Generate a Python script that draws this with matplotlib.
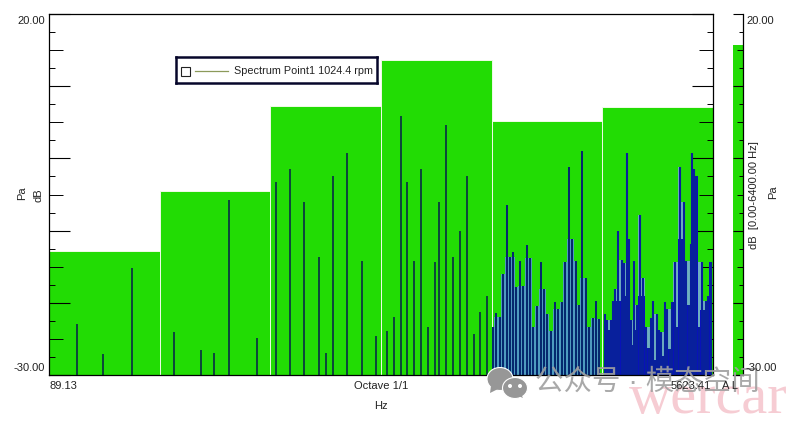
import numpy as np
import matplotlib
matplotlib.use('Agg')
import matplotlib.pyplot as plt
from matplotlib.patches import Ellipse, Rectangle, Polygon
from matplotlib.lines import Line2D

W, H = 801, 426

# octave bands (Hz edges) and overall levels (dB)
band_edges = [89.13, 177.83, 354.81, 707.95, 1412.54, 2818.38, 5623.41]
band_levels = [-12.86, -4.5, 7.25, 13.65, 5.15, 7.15]
overall_level = 15.7

# spectrum lines below 1.4 kHz
low_freqs = [106, 125, 150, 194, 230, 250, 274, 326,
             367, 400, 437, 480, 502, 524, 572, 628, 685,
             735, 766, 802, 831, 868, 907, 948, 992, 1014, 1060, 1107, 1157, 1211, 1265, 1313, 1369]
low_levels = [-22.9, -27.1, -15.2, -24.0, -26.5, -27.0, -5.8, -24.9,
              -3.2, -1.4, -6.1, -13.7, -27.0, -2.5, 0.8, -14.2, -24.6,
              -23.9, -22.0, 5.9, -3.2, -14.2, -1.4, -23.3, -14.3, -6.1, 4.6, -13.7, -10.1, -2.5, -24.3, -21.3, -19.1]

# band 1.4k - 2.8k
mid_freqs = [1421, 1448, 1485, 1516, 1552, 1580, 1613, 1647, 1683, 1720, 1758, 1791, 1832, 1874, 1918, 1955,
             1999, 2050, 2093, 2133, 2186, 2233, 2285, 2327, 2386, 2436, 2478, 2540, 2592, 2658, 2709, 2760]
mid_levels = [-23.3, -21.4, -21.9, -16.0, -6.45, -13.6, -13.0, -17.8, -14.2, -17.7, -12.0, -13.75, -23.3, -20.4, -14.3, -18.1,
              -21.5, -23.9, -19.9, -20.9, -19.9, -14.4, -1.2, -11.2, -14.2, -20.3, 1.0, -16.5, -23.3, -22.1, -19.8, -22.2]

# band 2.8k - 5.6k
high_freqs = [2860, 2897, 2932, 2968, 3004, 3044, 3084, 3102, 3137, 3182, 3218, 3253, 3280, 3325, 3365, 3396, 3427, 3463,
              3503, 3556, 3592, 3637, 3699, 3761, 3815, 3877, 3922, 3971, 4020, 4073, 4109, 4162, 4225, 4287, 4350,
              4434, 4492, 4563, 4626, 4679, 4751, 4840, 4893, 4920, 4982, 5063, 5152, 5241, 5312, 5383, 5446, 5544]
high_levels = [-21.5, -22.4, -23.8, -22.4, -19.8, -18.1, -19.8, -10.1, -19.8, -14.1, -14.5, -19.1, 0.8, -11.2, -22.4, -25.8, -14.2, -23.8,
               -20.3, -7.8, -19.1, -16.5, -23.3, -26.3, -22.1, -19.8, -27.9, -21.5, -23.8, -24.0, -27.4, -19.9, -20.9, -26.4, -19.9,
               -14.4, -23.3, -1.2, -11.2, -6.0, -14.2, -20.3, -11.9, 0.8, -1.4, -2.4, -23.3, -14.4, -21.0, -19.8, -19.1, -14.4]

legend_label = 'Spectrum Point1 1024.4 rpm'

GREEN = '#22dc04'
plt.rcParams['font.family'] = ['Liberation Sans', 'Noto Sans CJK SC', 'DejaVu Sans']


def box(left, top, right, bottom):
    return [left / W, 1 - bottom / H, (right - left) / W, (bottom - top) / H]


def label(x, y, s, **kw):
    kw.setdefault('fontsize', 8.0)
    kw.setdefault('color', '#222222')
    kw.setdefault('va', 'center')
    kw.setdefault('zorder', 11)
    fig.text(x / W, 1 - y / H, s, **kw)


def neighbours(levels):
    v = np.array(levels)
    return v, np.r_[v[0], v[:-1]], np.r_[v[1:], v[-1]]


def envelope(levels):
    # level under a line that is shared with its taller neighbour
    v, left, right = neighbours(levels)
    return np.minimum(v, np.maximum(left, right))


def notches(levels):
    # a low line between two taller ones shows as a pale strip
    v, left, right = neighbours(levels)
    return np.maximum(v, np.minimum(left, right))


def db_ticks(ax, side, lengths):
    ax.yaxis.set_ticks_position(side)
    ax.set_yticks(np.arange(-30, 21, 10))
    ax.set_yticks(np.arange(-27.5, 20, 2.5), minor=True)
    ax.tick_params(axis='y', which='major', direction='in', length=lengths[0] * 0.72, width=0.8, labelleft=False, labelright=False)
    ax.tick_params(axis='y', which='minor', direction='in', length=lengths[2] * 0.72, width=0.7)
    # the 5 dB marks are a bit longer than the 2.5 dB ones
    for t, pos in zip(ax.yaxis.get_minor_ticks(), ax.yaxis.get_minorticklocs()):
        if abs(pos % 5) < 0.01:
            t.tick1line.set_markersize(lengths[1] * 0.72)
            t.tick2line.set_markersize(lengths[1] * 0.72)


fig = plt.figure(figsize=(W / 100, H / 100), dpi=100, facecolor='white')

ax = fig.add_axes(box(49, 14, 713, 375))
ax.set_xscale('log')
ax.set_xlim(band_edges[0], band_edges[-1])
ax.set_ylim(-30, 20)

lefts = np.array(band_edges[:-1])
widths = np.diff(band_edges)
ax.bar(lefts, np.array(band_levels) + 30, widths, bottom=-30, align='edge',
       color=GREEN, edgecolor='#f0fbe8', linewidth=0.7, zorder=1)

ax.fill_between(mid_freqs, -30, envelope(mid_levels), step='mid', color='#4f9cc0', lw=0, zorder=2)
ax.fill_between(high_freqs, -30, notches(high_levels), step='mid', color='#6fb0c0', lw=0, zorder=2)
ax.fill_between(high_freqs, -30, envelope(high_levels), step='mid', color='#0a12bc', lw=0, zorder=2)

ax.vlines(low_freqs, -30, low_levels, color='#0a3a40', lw=1.3, zorder=3)
ax.vlines(mid_freqs, -30, mid_levels, color='#05286e', lw=1.45, zorder=3)
ax.vlines(high_freqs, -30, high_levels, color='#08209c', lw=1.5, zorder=3)

ax.xaxis.set_major_locator(matplotlib.ticker.NullLocator())
ax.xaxis.set_minor_locator(matplotlib.ticker.NullLocator())
db_ticks(ax, 'both', (21, 14, 6))
for s in ax.spines.values():
    s.set_linewidth(0.9)
    s.set_zorder(6)
for t in ax.yaxis.get_major_ticks() + ax.yaxis.get_minor_ticks():
    t.tick1line.set_zorder(5)
    t.tick2line.set_zorder(5)

# overall level bar on the right
ax2 = fig.add_axes(box(733, 14, 743, 375))
ax2.set_xlim(0, 1)
ax2.set_ylim(-30, 20)
ax2.bar([0], [overall_level + 30], 1, bottom=-30, align='edge', color=GREEN, linewidth=0)
ax2.set_xticks([])
db_ticks(ax2, 'right', (10, 6, 4))
ax2.spines['left'].set_visible(False)
ax2.spines['top'].set_visible(False)
ax2.spines['right'].set_linewidth(0.9)
ax2.spines['bottom'].set_linewidth(0.9)

# legend box
leg = fig.add_axes(box(176, 57, 377, 83), zorder=8)
leg.set_xticks([])
leg.set_yticks([])
leg.set_facecolor('white')
for s in leg.spines.values():
    s.set_linewidth(1.8)
    s.set_color('#06062a')
fig.add_artist(Rectangle((181 / W, 1 - 76 / H), 9 / W, 9 / H, transform=fig.transFigure,
                         fc='white', ec='#222222', lw=0.8, zorder=9))
fig.add_artist(Line2D([195 / W, 228 / W], [1 - 71 / H, 1 - 71 / H], color='#8c9a5a', lw=0.9, zorder=9))
fig.text(234 / W, 1 - 71 / H, legend_label, fontsize=7.8, color='#222222', va='center', zorder=9)

# tick and axis text
label(45, 21, '20.00', ha='right')
label(45, 368, '-30.00', ha='right')
label(49, 386, '89.13')
label(381, 386, 'Octave 1/1', ha='center')
label(381, 406, 'Hz', ha='center')
label(711, 386, '5623.41', ha='right')
label(730.5, 386, 'A L', ha='center')
label(22, 193, 'Pa', rotation=90, ha='center')
label(38, 195, 'dB', rotation=90, ha='center')
label(746, 21, '20.00')
label(746, 368, '-30.00')
label(754, 195, 'dB  [0.00-6400.00 Hz]', rotation=90, ha='center')
label(773, 192, 'Pa', rotation=90, ha='center')

# watermark
wm = '#979797'
fx = fig.transFigure
for (cx, cy, w, h) in [(500, 379, 26, 23), (515, 388, 25, 21)]:
    fig.add_artist(Ellipse((cx / W, 1 - cy / H), w / W, h / H, transform=fx, fc=wm, ec='white', lw=0.8, zorder=10))
for (cx, cy) in [(510, 386), (520, 386)]:
    fig.add_artist(Ellipse((cx / W, 1 - cy / H), 4 / W, 4 / H, transform=fx, fc='white', ec='none', zorder=10))
fig.add_artist(Polygon([(491 / W, 1 - 386 / H), (490 / W, 1 - 393 / H), (498 / W, 1 - 389 / H)],
                       transform=fx, fc=wm, ec='none', zorder=10))
fig.add_artist(Polygon([(520 / W, 1 - 392 / H), (523 / W, 1 - 398 / H), (514 / W, 1 - 394 / H)],
                       transform=fx, fc=wm, ec='none', zorder=10))
label(535, 383, '公众号 · 模态空间', fontsize=20.5, color='#a0a0a0', zorder=10, alpha=0.9)
label(629, 413, 'wercar', fontsize=42, color='#f6ccd3', zorder=9, va='baseline', family=['Liberation Serif'])

fig.savefig('out.png', dpi=100)
